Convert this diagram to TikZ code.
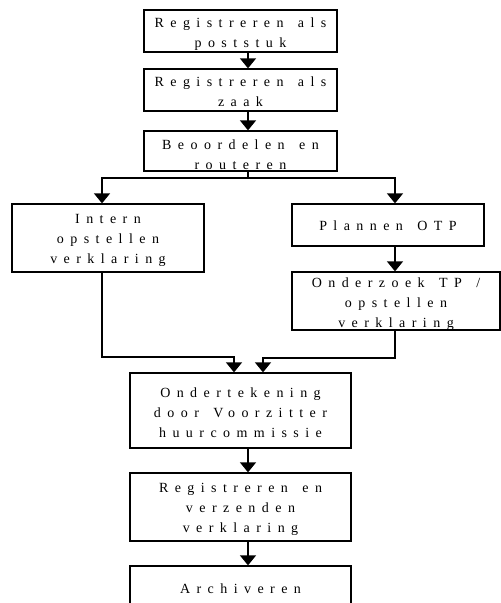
\documentclass[tikz,border=0pt]{standalone}
\usepackage{fontspec}
\setmainfont{Liberation Serif}[LetterSpace=46,WordSpace=1.45]
\usetikzlibrary{arrows.meta}
\tikzset{
wfbox/.style={rectangle,draw,line width=1.3pt,align=center,inner sep=0pt,text depth=0pt,font=\fontsize{14}{20}\selectfont},
wfdrop/.style={text height=#1},
wfnarrow/.style={wfbox,minimum width=193pt},
wfwide/.style={wfbox,minimum width=221pt},
wfarr/.style={-{Triangle[length=10pt,width=16pt]},line width=1.3pt},
wfline/.style={line width=1.3pt}
}

\begin{document}
\begin{tikzpicture}[x=1pt,y=-1pt]
\useasboundingbox (0,0) rectangle (501,603);
\clip (0,0) rectangle (501,603);
\node[wfnarrow,wfdrop=32pt,minimum height=42pt] (post) at (240.5,31) {Registreren als\\poststuk};
\node[wfnarrow,wfdrop=32pt,minimum height=42pt] (zaak) at (240.5,90) {Registreren als\\zaak};
\node[wfnarrow,wfdrop=36pt,minimum height=40pt] (route) at (240.5,151) {Beoordelen en\\routeren};
\node[wfbox,wfdrop=50pt,minimum width=192pt,minimum height=68pt] (intern) at (108,238) {Intern\\opstellen\\verklaring};
\node[wfbox,wfdrop=10pt,minimum width=192pt,minimum height=42pt] (plan) at (388,225) {Plannen OTP};
\node[wfbox,wfdrop=52pt,minimum width=208pt,minimum height=58pt] (onderzoek) at (396,301) {Onderzoek TP /\\opstellen\\verklaring};
\node[wfwide,wfdrop=53pt,minimum height=75pt] (onder) at (240.5,410.5) {Ondertekening\\door Voorzitter\\huurcommissie};
\node[wfwide,wfdrop=50pt,minimum height=68pt] (verzend) at (240.5,507) {Registreren en\\verzenden\\verklaring};
\node[wfwide,wfdrop=10pt,minimum height=44pt] (archief) at (240.5,588) {Archiveren};
\coordinate (mainx) at (248,0);
\coordinate (leftx) at (102,0);
\coordinate (rightx) at (395,0);
\coordinate (split) at (248,178);
\coordinate (joinl) at (234,357);
\coordinate (joinr) at (263,358);
\draw[wfarr] (post.south -| mainx)--(zaak.north -| mainx);
\draw[wfarr] (zaak.south -| mainx)--(route.north -| mainx);
\draw[wfline] (route.south -| mainx)--(split);
\draw[wfarr] (split)-|(intern.north -| leftx);
\draw[wfarr] (split)-|(plan.north -| rightx);
\draw[wfarr] (plan.south -| rightx)--(onderzoek.north -| rightx);
\draw[wfarr] (intern.south -| leftx)|-(joinl)--(onder.north -| joinl);
\draw[wfarr] (onderzoek.south -| rightx)|-(joinr)--(onder.north -| joinr);
\draw[wfarr] (onder.south -| mainx)--(verzend.north -| mainx);
\draw[wfarr] (verzend.south -| mainx)--(archief.north -| mainx);
\end{tikzpicture}
\end{document}
